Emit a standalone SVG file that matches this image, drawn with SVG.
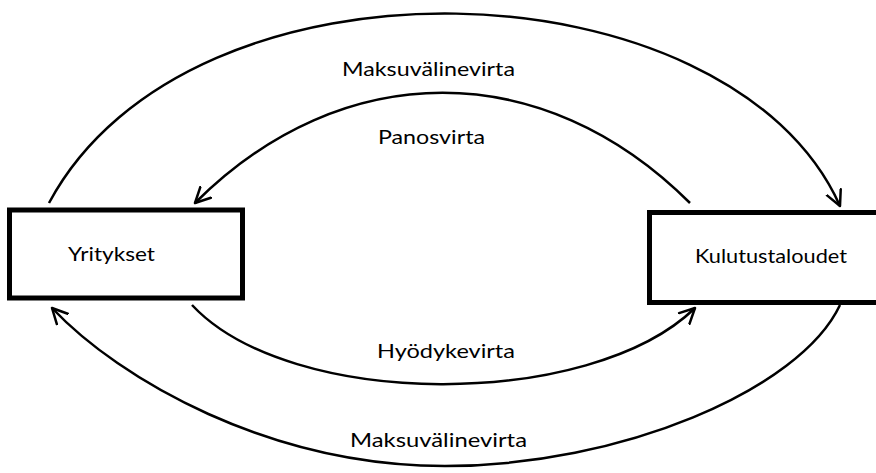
<svg xmlns="http://www.w3.org/2000/svg" width="876" height="473" viewBox="0 0 876 473">
<style>
.box{fill:#fff;stroke:#000;stroke-width:5}
.flow{fill:none;stroke:#000;stroke-width:2.5}
.lbl{font-family:Lato,"Liberation Sans",sans-serif;font-size:19px;fill:#000}
</style>
<defs>
<marker id="arr" markerUnits="userSpaceOnUse" viewBox="0 0 18 18" refX="16" refY="9" markerWidth="18" markerHeight="18" orient="auto">
<path d="M1,1.5 L16,9 L1,16.5" fill="none" stroke="#000" stroke-width="2.5" stroke-linecap="round" stroke-linejoin="round"/>
</marker>
</defs>
<rect width="876" height="473" fill="#fff"/>
<g id="connectors">
<path class="flow" d="M49,203 C190,-60 730,-40 840,206" marker-end="url(#arr)"/>
<path class="flow" d="M690,203 C543,56 342,56 195,203" marker-end="url(#arr)"/>
<path class="flow" d="M192,305 C290,410 590,410 695,308" marker-end="url(#arr)"/>
<path class="flow" d="M840,305 C800,390 620,466 445,466 C270,466 120,380 52,308" marker-end="url(#arr)"/>
<text class="lbl" x="342" y="76" textLength="173" lengthAdjust="spacingAndGlyphs">Maksuvälinevirta</text>
<text class="lbl" x="378" y="144" textLength="107" lengthAdjust="spacingAndGlyphs">Panosvirta</text>
<text class="lbl" x="377" y="358" textLength="138" lengthAdjust="spacingAndGlyphs">Hyödykevirta</text>
<text class="lbl" x="350" y="447" textLength="177" lengthAdjust="spacingAndGlyphs">Maksuvälinevirta</text>
</g>
<g id="yritykset">
<rect class="box" x="9.5" y="210" width="233" height="88"/>
<text class="lbl" x="68" y="261" textLength="87" lengthAdjust="spacingAndGlyphs">Yritykset</text>
</g>
<g id="kulutustaloudet">
<rect class="box" x="649.5" y="212.5" width="240" height="90"/>
<text class="lbl" x="695" y="263" textLength="152" lengthAdjust="spacingAndGlyphs">Kulutustaloudet</text>
</g>
</svg>
